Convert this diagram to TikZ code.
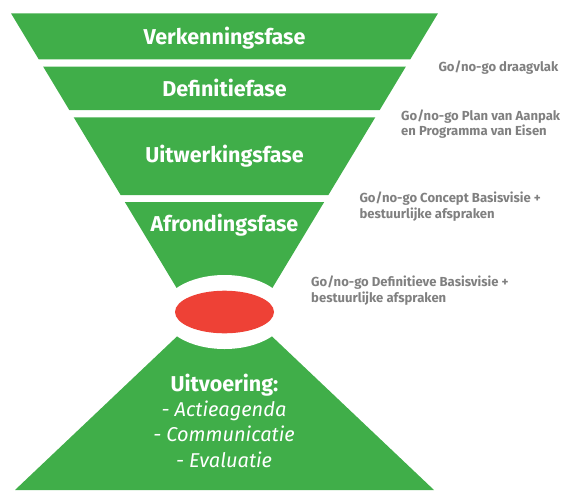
\documentclass[tikz,border=0pt]{standalone}
\usepackage{fontspec}
\setmainfont{Fira Sans}
\usetikzlibrary{shapes.geometric}
\definecolor{fgreen}{HTML}{40AE49}
\definecolor{fred}{HTML}{EE4136}
\definecolor{fgray}{HTML}{808080}
\begin{document}
\begin{tikzpicture}[x=1pt,y=-1pt,
  band/.style={fill=fgreen,draw=none},
  phase/.style={text=white,font=\bfseries\fontsize{21.5}{25}\selectfont,anchor=base,inner sep=0pt},
  exec/.style={text=white,font=\itshape\fontsize{20}{25}\selectfont,anchor=base,inner sep=0pt},
  gate/.style={text=fgray,font=\bfseries\fontsize{13.1}{15}\selectfont,anchor=base west,inner sep=0pt}]
\useasboundingbox (0,0) rectangle (563,491);
% funnel bands
\fill[band] (11,13.3) -- (438,13.3) -- (410.3,59.3) -- (38.7,59.3) -- cycle;
\fill[band] (43.2,66.7) -- (405.8,66.7) -- (379.7,110) -- (69.3,110) -- cycle;
\fill[band] (73.7,117.3) -- (375.3,117.3) -- (328.4,195) -- (120.6,195) -- cycle;
\fill[band] (124.8,202) -- (324.2,202) -- (257.9,312) -- (191.1,312) -- cycle;
% execution triangle
\fill[band] (15,490) -- (434,490) -- (224.5,291.4) -- cycle;
% gate
\fill[white] (224.5,312) ellipse [x radius=63pt, y radius=37pt];
\node[ellipse, fill=fred, minimum width=99pt, minimum height=42.6pt, inner sep=0pt] (gate) at (224.5,312) {};
% phase labels
\node[phase] (p1) at (224.5,44) {Verkenningsfase};
\node[phase] (p2) at (224.5,96.7) {Definitiefase};
\node[phase] (p3) at (224.5,162.3) {Uitwerkingsfase};
\node[phase] (p4) at (224.5,231.7) {Afrondingsfase};
% execution labels
\node[phase] (u0) at (224.5,391.7) {Uitvoering:};
\node[exec] (u1) at (224,416.7) {- Actieagenda};
\node[exec] (u2) at (224,441.7) {- Communicatie};
\node[exec] (u3) at (224,467.3) {- Evaluatie};
% go/no-go labels
\node[gate] (g1) at (438.3,71) {Go/no-go draagvlak};
\node[gate] (g2a) at (401,120) {Go/no-go Plan van Aanpak};
\node[gate] (g2b) at (401,135.5) {en Programma van Eisen};
\node[gate] (g3a) at (359.3,202.7) {Go/no-go Concept Basisvisie +};
\node[gate] (g3b) at (359.3,218.3) {bestuurlijke afspraken};
\node[gate] (g4a) at (311,286.7) {Go/no-go Definitieve Basisvisie +};
\node[gate] (g4b) at (311,302.3) {bestuurlijke afspraken};
\end{tikzpicture}
\end{document}
